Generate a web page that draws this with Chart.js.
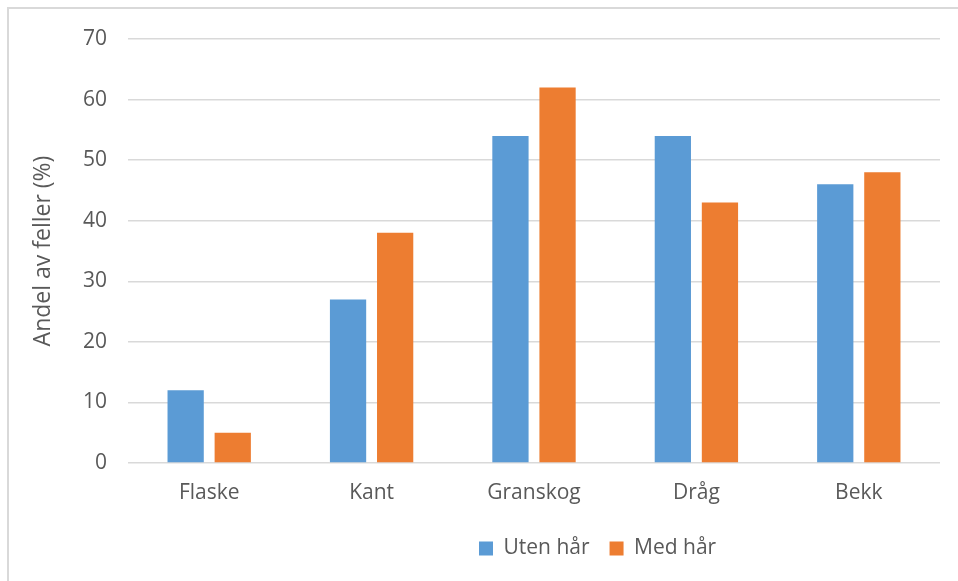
<!DOCTYPE html>
<html>
<head>
<meta charset="utf-8">
<script src="https://cdn.jsdelivr.net/npm/chart.js@4/dist/chart.umd.min.js"></script>
<style>
  html, body { margin: 0; padding: 0; background: #fff; }
  #wrap { position: relative; width: 958px; height: 581px; }
</style>
</head>
<body>
<div id="wrap"><canvas id="c" width="958" height="581"></canvas></div>
<script>
const categories = ['Flaske', 'Kant', 'Granskog', 'Dråg', 'Bekk'];
const utenHar = [12, 27, 54, 54, 46];
const medHar = [5, 38, 62, 43, 48];
const yTicks = [0, 10, 20, 30, 40, 50, 60, 70];

const textGray = '#595959';
const fontFamily = '"Open Sans", "Liberation Sans", sans-serif';
const legendStartX = 479;

// light frame around the chart, and the legend placed a bit right of centre
const framePlugin = {
  id: 'frame',
  afterLayout(chart) {
    if (chart.legend) chart.legend._shifted = false;
  },
  beforeDraw(chart) {
    const lg = chart.legend;
    if (lg && lg.legendHitBoxes && lg.legendHitBoxes.length && !lg._shifted) {
      const dx = legendStartX - lg.legendHitBoxes[0].left;
      lg.left += dx;
      lg.right += dx;
      lg.legendHitBoxes.forEach(h => { h.left += dx; });
      lg._shifted = true;
    }
    const ctx = chart.ctx;
    ctx.save();
    ctx.fillStyle = '#ffffff';
    ctx.fillRect(0, 0, chart.width, chart.height);
    ctx.strokeStyle = '#d9d9d9';
    ctx.lineWidth = 2;
    ctx.strokeRect(8, 8, chart.width + 20, chart.height + 20);
    ctx.restore();
  }
};

new Chart(document.getElementById('c'), {
  type: 'bar',
  data: {
    labels: categories,
    datasets: [
      { label: 'Uten hår', data: utenHar, backgroundColor: '#5b9bd5',
        categoryPercentage: 0.58, barPercentage: 0.77 },
      { label: 'Med hår', data: medHar, backgroundColor: '#ed7d31',
        categoryPercentage: 0.58, barPercentage: 0.77 }
    ]
  },
  options: {
    responsive: false,
    animation: false,
    layout: { padding: { top: 39, right: 18, bottom: 12, left: 0 } },
    plugins: {
      legend: {
        position: 'bottom',
        labels: {
          boxWidth: 14, boxHeight: 14, padding: 20,
          color: textGray,
          font: { family: fontFamily, size: 21 }
        }
      },
      tooltip: { enabled: false }
    },
    scales: {
      x: {
        grid: { display: false, drawTicks: false },
        border: { display: false },
        ticks: { color: textGray, padding: 17, font: { family: fontFamily, size: 21 } },
        afterFit(scale) { scale.height = 55; }
      },
      y: {
        min: 0, max: 70,
        afterBuildTicks(scale) { scale.ticks = yTicks.map(v => ({ value: v })); },
        grid: { color: '#d9d9d9', lineWidth: 1.5, drawTicks: false },
        border: { display: false },
        ticks: { color: textGray, padding: 21, font: { family: fontFamily, size: 21 } },
        title: {
          display: true, text: 'Andel av feller (%)', color: textGray,
          font: { family: fontFamily, size: 23 }, padding: { top: 30, bottom: 0 }
        },
        afterFit(scale) { scale.width = 128; }
      }
    }
  },
  plugins: [framePlugin]
});
</script>
</body>
</html>
